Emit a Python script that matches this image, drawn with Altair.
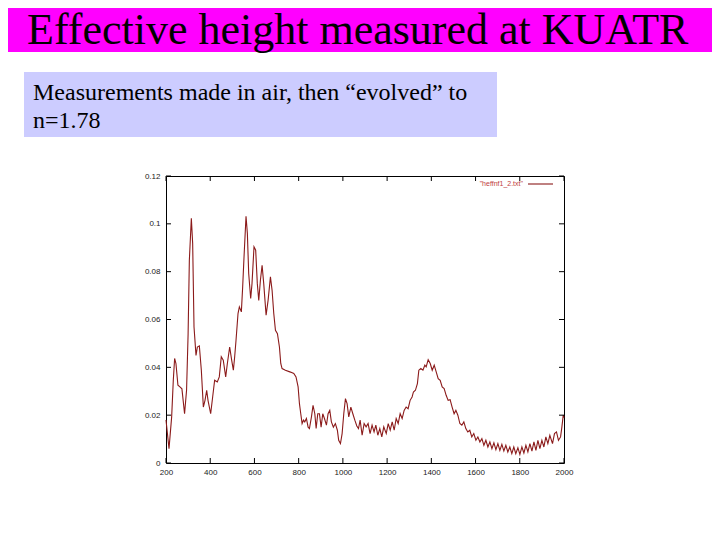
import altair as alt
import pandas as pd

# ---- data ----
freq = [200, 213.6, 225.6, 233, 239, 245, 254, 263, 272, 284, 293, 300, 305.6, 314.6, 320.6,
        326.7, 335.7, 341.8, 350.8, 359.8, 368.9, 376.4, 384, 390, 402, 411, 420, 432, 441,
        450, 459, 470, 477.5, 488, 497, 504.6, 510.6, 516.7, 525.7, 531.8, 540.8, 546.8,
        552.9, 561.9, 568, 574, 583, 589, 598, 605.6, 613,
        619.5, 627, 634.6, 642, 652.7, 661.7, 672.3, 679.8, 687.4, 695, 704, 713, 719, 725,
        740, 763, 778, 788, 797.5, 803.5, 809.5, 815.5, 821.6, 827.6, 835, 842.7, 848.7,
        857.8, 865, 873, 879, 886.4, 894, 901.5, 909, 916.6, 925.6, 933, 940.7, 948, 957,
        966, 975, 981, 989, 996.5, 1004, 1011.6, 1019, 1026.6, 1036, 1045, 1054,
        1063, 1070.5, 1078, 1087, 1096, 1105, 1114, 1123, 1132, 1141, 1149, 1158, 1167,
        1176, 1185, 1196, 1205, 1214, 1223, 1232, 1241, 1250, 1259, 1268, 1277, 1286,
        1295, 1304, 1313, 1319, 1328, 1337, 1343.5, 1352.5, 1362, 1370.6, 1376.7, 1385.7,
        1395, 1404, 1413, 1422, 1431, 1440, 1449, 1458, 1467, 1476, 1485, 1494, 1503,
        1511, 1520, 1529, 1538, 1547, 1556, 1565, 1574, 1583, 1592, 1601.5, 1610.5, 1619.6,
        1628.6, 1637.7, 1646.7, 1655.8, 1664.8, 1674, 1683, 1692, 1701, 1710, 1719, 1728,
        1737, 1746, 1755, 1764, 1773, 1782, 1791.5, 1800.5, 1809.6, 1818.6, 1827.7, 1836.7,
        1845.8, 1855, 1864, 1873, 1882, 1891, 1900, 1909, 1918, 1927, 1936, 1948, 1957,
        1966, 1975, 1984.5, 1990.5, 1996.6, 2000]
heff = [0.018, 0.006, 0.0193, 0.0346, 0.0437, 0.0416, 0.0325, 0.0318, 0.031, 0.0206, 0.0304,
        0.054, 0.0848, 0.1023, 0.0918, 0.0569, 0.045, 0.0485, 0.049, 0.0388, 0.0234, 0.0262,
        0.0304, 0.0262, 0.0206, 0.0276, 0.0346, 0.0339, 0.036, 0.0444, 0.043, 0.036, 0.0416,
        0.0485, 0.043, 0.0388, 0.0444, 0.0513, 0.0625, 0.0653, 0.0632, 0.0737, 0.0862,
        0.1032, 0.096, 0.0792, 0.0688, 0.075, 0.0904, 0.089, 0.075,
        0.068, 0.0764, 0.0827, 0.075, 0.0618, 0.068, 0.0778, 0.0722, 0.0625, 0.0555, 0.0541,
        0.0485, 0.0416, 0.0395, 0.0388, 0.038, 0.0374, 0.036, 0.0318, 0.0248, 0.0206, 0.0165,
        0.0179, 0.0172, 0.0186, 0.015, 0.0144, 0.0193, 0.0241, 0.0206, 0.0144, 0.0206,
        0.0206, 0.015, 0.0206, 0.0186, 0.0158, 0.0206, 0.022, 0.0172, 0.015, 0.0165, 0.0137,
        0.0095, 0.0081, 0.0123, 0.0206, 0.0269, 0.0248, 0.0193, 0.0234, 0.0206, 0.0179,
        0.0155, 0.0144, 0.0179, 0.0116, 0.0165, 0.0151, 0.0165, 0.0123, 0.0158, 0.013,
        0.0158, 0.0116, 0.0144, 0.0109, 0.0151, 0.0123, 0.0165, 0.0137, 0.0172, 0.0137,
        0.0186, 0.0165, 0.0206, 0.0186, 0.022, 0.0234, 0.0227, 0.0262, 0.0276, 0.0297,
        0.0304, 0.0332, 0.0388, 0.0395, 0.0388, 0.0409, 0.0402, 0.0432, 0.0416, 0.0388,
        0.0409, 0.0381, 0.0353, 0.0346, 0.0318, 0.0311, 0.0283, 0.0262, 0.0265, 0.0234,
        0.0206,
        0.022, 0.02, 0.0165, 0.0158, 0.0172, 0.0144, 0.013, 0.0137, 0.0109, 0.0123, 0.0095,
        0.0109, 0.0088, 0.0102, 0.0074, 0.0095, 0.0067, 0.0088, 0.006, 0.0084, 0.0056,
        0.0081, 0.0053, 0.0078, 0.005, 0.0074, 0.0046, 0.0067, 0.0039, 0.0067, 0.0039,
        0.0064, 0.0036, 0.0067, 0.0042, 0.0074, 0.0046, 0.0081, 0.005, 0.0088, 0.0053,
        0.0095, 0.006, 0.0095, 0.0067, 0.0109, 0.0081, 0.0116, 0.0081, 0.0123, 0.013,
        0.0095, 0.0109, 0.0151, 0.02, 0.019]

x_ticks = [200, 400, 600, 800, 1000, 1200, 1400, 1600, 1800, 2000]
y_ticks = [0, 0.02, 0.04, 0.06, 0.08, 0.1, 0.12]

title_text = "Effective height measured at KUATR"
note_lines = ["Measurements made in air, then \u201cevolved\u201d to", "n=1.78"]
legend_label = "\"heffnf1_2.txt\""

W, H = 398, 287
LINE_COLOR = "#8B1A1A"

df = pd.DataFrame({"f": freq, "h": heff})
xt = pd.DataFrame({"f": x_ticks})
yt = pd.DataFrame({"h": y_ticks})
one = pd.DataFrame({"k": [0]})

xscale = alt.Scale(domain=[200, 2000], nice=False, zero=False)
yscale = alt.Scale(domain=[0, 0.12], nice=False, zero=False)
xaxis = alt.Axis(values=x_ticks, labelExpr="format(datum.value, 'd')", title=None, grid=False,
                 domain=False, ticks=False,
                 labelFont="Liberation Sans", labelFontSize=8, labelColor="#222",
                 labelPadding=5, labelFlush=False, labelOverlap=False)
yaxis = alt.Axis(values=y_ticks, labelExpr="format(datum.value, '.2~f')", title=None, grid=False,
                 domain=False, ticks=False,
                 labelFont="Liberation Sans", labelFontSize=8, labelColor="#222",
                 labelPadding=6, labelFlush=False, labelOverlap=False)

# slide decorations (pixel positions relative to plot area)
title_bar = alt.Chart(one).mark_rect(color="#FF00FF").encode(
    x=alt.value(-158), x2=alt.value(546), y=alt.value(-168), y2=alt.value(-124))
title = alt.Chart(pd.DataFrame({"t": [title_text]})).mark_text(
    font="Liberation Serif", fontSize=44, color="black", align="left", baseline="alphabetic"
).encode(text="t:N", x=alt.value(-139), y=alt.value(-132))
note_box = alt.Chart(one).mark_rect(color="#CCCCFF").encode(
    x=alt.value(-142), x2=alt.value(331), y=alt.value(-104), y2=alt.value(-39))
note1 = alt.Chart(pd.DataFrame({"t": [note_lines[0]]})).mark_text(
    font="Liberation Serif", fontSize=24, color="black", align="left", baseline="alphabetic"
).encode(text="t:N", x=alt.value(-133), y=alt.value(-76))
note2 = alt.Chart(pd.DataFrame({"t": [note_lines[1]]})).mark_text(
    font="Liberation Serif", fontSize=24, color="black", align="left", baseline="alphabetic"
).encode(text="t:N", x=alt.value(-133), y=alt.value(-48))

line = alt.Chart(df).mark_line(color=LINE_COLOR, strokeWidth=1.1).encode(
    x=alt.X("f:Q", scale=xscale, axis=xaxis),
    y=alt.Y("h:Q", scale=yscale, axis=yaxis),
)

tick_bottom = alt.Chart(xt).mark_rule(color="black", strokeWidth=1).encode(
    x=alt.X("f:Q", scale=xscale, axis=xaxis), y=alt.value(H), y2=alt.value(H - 5))
tick_top = alt.Chart(xt).mark_rule(color="black", strokeWidth=1).encode(
    x=alt.X("f:Q", scale=xscale, axis=xaxis), y=alt.value(0), y2=alt.value(5))
tick_left = alt.Chart(yt).mark_rule(color="black", strokeWidth=1).encode(
    y=alt.Y("h:Q", scale=yscale, axis=yaxis), x=alt.value(0), x2=alt.value(5))
tick_right = alt.Chart(yt).mark_rule(color="black", strokeWidth=1).encode(
    y=alt.Y("h:Q", scale=yscale, axis=yaxis), x=alt.value(W), x2=alt.value(W - 5))

legend_text = alt.Chart(pd.DataFrame({"t": [legend_label]})).mark_text(
    font="Liberation Sans", fontSize=7, color="#C04040", align="right", baseline="middle"
).encode(text="t:N", x=alt.value(357), y=alt.value(8))
legend_line = alt.Chart(one).mark_rule(color=LINE_COLOR, strokeWidth=1.1).encode(
    x=alt.value(362), x2=alt.value(387), y=alt.value(8))

chart = alt.layer(
    line, title_bar, title, note_box, note1, note2,
    tick_bottom, tick_top, tick_left, tick_right,
    legend_text, legend_line,
).properties(
    width=W, height=H,
    autosize=alt.AutoSizeParams(type="none"),
    padding={"left": 158, "top": 168, "right": 148, "bottom": 69},
    background="white",
).configure_view(stroke="black", strokeWidth=1)

chart.save("out.html", embed_options={"renderer": "svg", "actions": False})
